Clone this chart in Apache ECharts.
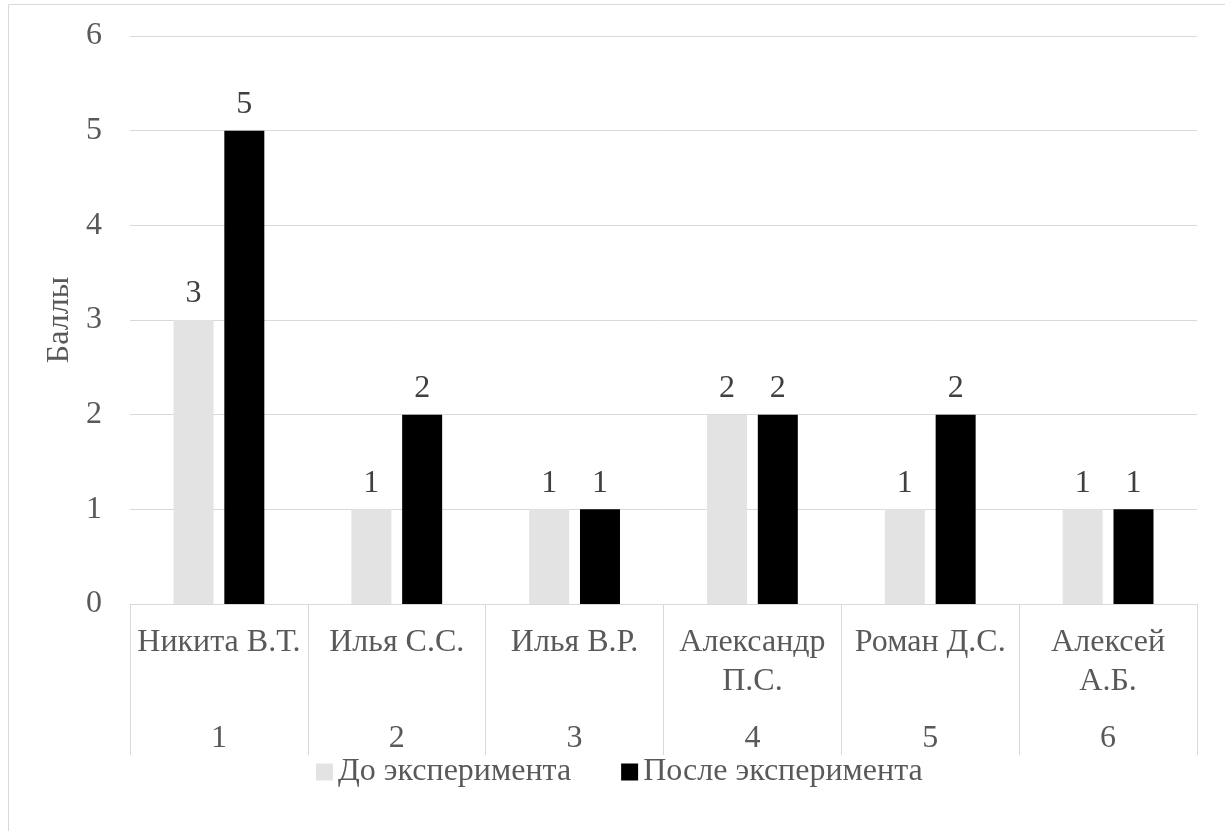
<!DOCTYPE html>
<html><head><meta charset="utf-8">
<script src="https://cdn.jsdelivr.net/npm/echarts@6/dist/echarts.min.js"></script>
<style>html,body{margin:0;padding:0;background:#fff}#c{width:1225px;height:831px}</style>
</head><body><div id="c"></div>
<script>
var names = ['Никита В.Т.', 'Илья С.С.', 'Илья В.Р.', 'Александр\nП.С.', 'Роман Д.С.', 'Алексей\nА.Б.'];
var numbers = ['1', '2', '3', '4', '5', '6'];
var before = [3, 1, 1, 2, 1, 1];
var after = [5, 2, 1, 2, 2, 1];
var seriesNames = ['До эксперимента', 'После эксперимента'];
var yTitle = 'Баллы';

var FONT = 'Liberation Serif';
var TXT = '#595959';
var GRID = '#d9d9d9';
var FS = 32;
var chart = echarts.init(document.getElementById('c'), null, {renderer: 'canvas'});
chart.setOption({
  animation: false,
  backgroundColor: '#fff',
  textStyle: {fontFamily: FONT},
  graphic: [{type: 'rect', shape: {x: 8.5, y: 4.5, width: 1400, height: 1000}, style: {fill: 'none', stroke: GRID, lineWidth: 1}, silent: true, z: -1}],
  grid: {left: 130, right: 28, top: 36, bottom: 227, containLabel: false},
  legend: {
    bottom: 38, left: 311, itemWidth: 17, itemHeight: 17, itemGap: 50,
    icon: 'rect',
    textStyle: {fontFamily: FONT, fontSize: FS, color: TXT},
    data: seriesNames
  },
  xAxis: [{
    type: 'category', data: names, position: 'bottom',
    axisLine: {show: true, lineStyle: {color: GRID, width: 1}},
    axisTick: {show: true, length: 151, lineStyle: {color: GRID, width: 1}},
    axisLabel: {interval: 0, margin: 19, fontFamily: FONT, fontSize: FS, color: TXT, lineHeight: 39, align: 'center'}
  }, {
    type: 'category', data: numbers, position: 'bottom', gridIndex: 0,
    axisLine: {show: false}, axisTick: {show: false},
    axisLabel: {interval: 0, margin: 117, fontFamily: FONT, fontSize: FS, color: TXT, lineHeight: 36}
  }],
  yAxis: {
    type: 'value', min: 0, max: 6, interval: 1,
    name: yTitle, nameLocation: 'middle', nameGap: 54, nameRotate: 90,
    nameTextStyle: {fontFamily: FONT, fontSize: FS, color: TXT},
    axisLine: {show: false}, axisTick: {show: false},
    axisLabel: {margin: 28, fontFamily: FONT, fontSize: FS, color: TXT},
    splitLine: {lineStyle: {color: GRID, width: 1}}
  },
  series: [{
    name: seriesNames[0], type: 'bar', data: before, barWidth: 40, barGap: '27%',
    itemStyle: {color: '#e3e3e3'},
    label: {show: true, position: 'top', distance: 10, fontFamily: FONT, fontSize: FS, color: '#404040'}
  }, {
    name: seriesNames[1], type: 'bar', data: after, barWidth: 40, barGap: '27%',
    itemStyle: {color: '#000000'},
    label: {show: true, position: 'top', distance: 10, fontFamily: FONT, fontSize: FS, color: '#404040'}
  }]
});
</script></body></html>
